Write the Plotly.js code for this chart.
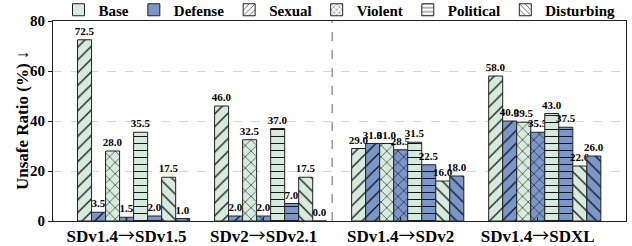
<!DOCTYPE html>
<html>
<head>
<meta charset="utf-8">
<script src="https://cdn.plot.ly/plotly-3.0.1.min.js"></script>
<style>html,body{margin:0;padding:0;background:#fff}#chart{width:632px;height:246px}</style>
</head>
<body>
<div id="chart"></div>
<script>
const categories = ["SDv1.4\u2192SDv1.5", "SDv2\u2192SDv2.1", "SDv1.4\u2192SDv2", "SDv1.4\u2192SDXL"];
const sexualBase = [72.5, 46.0, 29.0, 58.0];
const sexualDefense = [3.5, 2.0, 31.0, 40.0];
const violentBase = [28.0, 32.5, 31.0, 39.5];
const violentDefense = [1.5, 2.0, 28.5, 35.5];
const politicalBase = [35.5, 37.0, 31.5, 43.0];
const politicalDefense = [2.0, 7.0, 22.5, 37.5];
const disturbingBase = [17.5, 17.5, 16.0, 22.0];
const disturbingDefense = [1.0, 0.0, 18.0, 26.0];
const yTicks = [0, 20, 40, 60, 80];
const yTitle = "Unsafe Ratio (%) \u2193";

const BASE_C = "#d6ebdd", DEF_C = "#7b96c9", EDGE = "#222222";
const serif = "Liberation Serif, DejaVu Serif, serif";
const BW = 0.1023, START = -0.358;

const series = [
  {y: sexualBase, c: BASE_C, s: "/", z: 9},
  {y: sexualDefense, c: DEF_C, s: "/", z: 9},
  {y: violentBase, c: BASE_C, s: "x", z: 8},
  {y: violentDefense, c: DEF_C, s: "x", z: 8},
  {y: politicalBase, c: BASE_C, s: "-", z: 7},
  {y: politicalDefense, c: DEF_C, s: "-", z: 7},
  {y: disturbingBase, c: BASE_C, s: "\\", z: 9},
  {y: disturbingDefense, c: DEF_C, s: "\\", z: 9}
];

const traces = series.map((d, i) => ({
  type: "bar",
  x: categories,
  y: d.y,
  width: BW,
  offset: START + i * BW,
  showlegend: false,
  marker: {color: d.c, line: {color: EDGE, width: 1},
           pattern: {shape: d.s, fgcolor: "#111", bgcolor: d.c, size: d.z, solidity: 0.14}},
  text: d.y.map(v => v.toFixed(1)),
  textposition: "outside",
  constraintext: "none",
  cliponaxis: false,
  textfont: {family: serif, size: 11, color: "#000", weight: "bold"},
  hoverinfo: "x+y"
}));

const legendItems = [
  {name: "Base", c: BASE_C, s: ""},
  {name: "Defense", c: DEF_C, s: ""},
  {name: "Sexual", c: "#ffffff", s: "/"},
  {name: "Violent", c: "#ffffff", s: "x"},
  {name: "Political", c: "#ffffff", s: "-"},
  {name: "Disturbing", c: "#ffffff", s: "\\"}
];
legendItems.forEach(l => traces.push({
  type: "bar", x: [0], y: [0], xaxis: "x2", yaxis: "y2", name: l.name,
  marker: {color: l.c, line: {color: EDGE, width: 1},
           pattern: {shape: l.s, fgcolor: "#111", bgcolor: l.c, size: 5, solidity: 0.15}},
  hoverinfo: "skip"
}));

// tick labels: same text, arrow drawn with a wide CJK glyph
const tickText = categories.map(c => c.replace("\u2192",
  '<span style="font-family:Noto Sans CJK JP;font-weight:normal">\u2192</span>'));

const layout = {
  width: 632, height: 246,
  margin: {l: 53, r: 6, t: 21, b: 25, autoexpand: false},
  paper_bgcolor: "#fff", plot_bgcolor: "#fff",
  barmode: "overlay",
  showlegend: true,
  legend: {orientation: "h", x: 0.5, xanchor: "center", y: 1.055, yanchor: "middle",
           font: {family: serif, size: 15, color: "#000", weight: "bold"},
           bgcolor: "rgba(0,0,0,0)", itemclick: false, tracegroupgap: 0},
  xaxis: {type: "category", range: [-0.537, 3.644], showgrid: false,
          tickvals: categories, ticktext: tickText,
          ticks: "inside", ticklen: 4, tickcolor: "#222",
          showline: true, linecolor: "#222", linewidth: 1, mirror: true,
          tickfont: {family: serif, size: 17, color: "#000", weight: "bold"}},
  yaxis: {range: [0, 80], tickvals: yTicks, showgrid: true, gridcolor: "#cccccc",
          griddash: "dash", gridwidth: 0.8, zeroline: false,
          ticks: "outside", ticklen: 4, tickcolor: "#222",
          showline: true, linecolor: "#222", linewidth: 1, mirror: true,
          tickfont: {family: serif, size: 15, color: "#000", weight: "bold"}},
  annotations: [{text: yTitle, xref: "paper", yref: "paper", x: 0, y: 0.5, xshift: -31,
                 xanchor: "center", yanchor: "middle", textangle: -90, showarrow: false,
                 font: {family: serif, size: 17, color: "#000", weight: "bold"}}],
  xaxis2: {visible: false, domain: [0, 0.001], anchor: "y2"},
  yaxis2: {visible: false, domain: [0, 0.001], anchor: "x2"},
  shapes: [{type: "line", xref: "x", yref: "paper", x0: 1.5, x1: 1.5, y0: 0, y1: 1,
            line: {color: "#888", width: 1.3, dash: "dash"}}]
};

Plotly.newPlot("chart", traces, layout, {staticPlot: true, displayModeBar: false});
</script>
</body>
</html>
